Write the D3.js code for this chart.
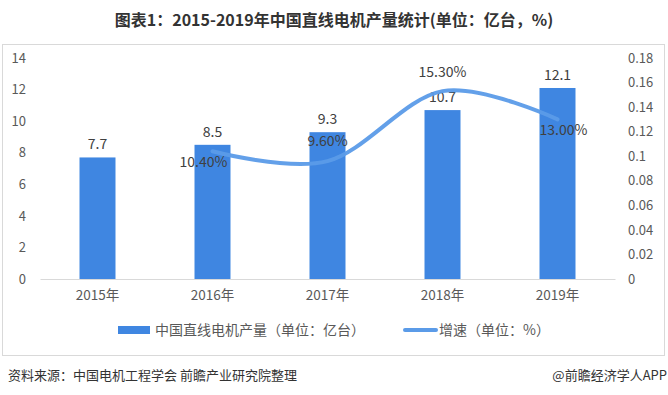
<!DOCTYPE html>
<html><head><meta charset="utf-8">
<script src="https://cdn.jsdelivr.net/npm/d3@7/dist/d3.min.js"></script>
<style>body{margin:0;background:#fff;}svg{display:block;}</style>
</head><body>
<svg id="c" width="668" height="395"></svg>
<script>
const years = ["2015年","2016年","2017年","2018年","2019年"];
const output = [7.7, 8.5, 9.3, 10.7, 12.1];
const growthYears = ["2016年","2017年","2018年","2019年"];
const growth = [0.104, 0.096, 0.153, 0.13];
const growthLabels = ["10.40%","9.60%","15.30%","13.00%"];
const leftTicks = [0,2,4,6,8,10,12,14];
const rightTicks = [0,0.02,0.04,0.06,0.08,0.1,0.12,0.14,0.16,0.18];

const svg = d3.select("#c");
const font = "'Noto Sans CJK SC','Microsoft YaHei',sans-serif";
const x = d3.scaleBand().domain(years).range([40,615]).paddingInner(0.687).paddingOuter(0.3435);
const yL = d3.scaleLinear().domain([0,14]).range([279,58]);
const yR = d3.scaleLinear().domain([0,0.18]).range([279,58]);
const cx = d => x(d)+x.bandwidth()/2;

// frame
svg.append("rect").attr("x",2.5).attr("y",44.5).attr("width",662).attr("height",311)
  .attr("fill","none").attr("stroke","#d9d9d9");

// title
svg.append("text").attr("x",334).attr("y",26).attr("text-anchor","middle")
  .attr("font-family",font).attr("font-weight","bold").attr("font-size",16).attr("fill","#333")
  .text("图表1：2015-2019年中国直线电机产量统计(单位：亿台，%)");

// left axis
const gl = svg.append("g").attr("transform","translate(26,0)")
  .call(d3.axisLeft(yL).tickValues(leftTicks).tickSize(0).tickPadding(0));
gl.select(".domain").remove();
gl.selectAll("text").attr("font-family",font).attr("font-size",13).attr("fill","#595959");

// right axis
const gr = svg.append("g").attr("transform","translate(628,0)")
  .call(d3.axisRight(yR).tickValues(rightTicks).tickSize(0).tickPadding(0).tickFormat(d=>String(d)));
gr.select(".domain").remove();
gr.selectAll("text").attr("font-family",font).attr("font-size",13).attr("fill","#595959");

// x axis
const gx = svg.append("g").attr("transform","translate(0,279)")
  .call(d3.axisBottom(x).tickSize(0).tickPadding(11));
gx.select(".domain").attr("stroke","#d9d9d9");
gx.selectAll("text").attr("font-family",font).attr("font-size",13.5).attr("fill","#595959");

// bars
svg.selectAll("rect.bar").data(output).join("rect").attr("class","bar")
  .attr("x",(d,i)=>x(years[i])).attr("width",x.bandwidth())
  .attr("y",d=>yL(d)).attr("height",d=>yL(0)-yL(d)).attr("fill","#3f86e1");

svg.selectAll("text.bl").data(output).join("text").attr("class","bl")
  .attr("x",(d,i)=>cx(years[i])).attr("y",d=>yL(d)-8).attr("text-anchor","middle")
  .attr("font-family",font).attr("font-size",14).attr("fill","#404040").text(d=>d);

// line
const line = d3.line().x((d,i)=>cx(growthYears[i])).y(d=>yR(d)).curve(d3.curveCardinal.tension(0));
svg.append("path").datum(growth).attr("d",line).attr("fill","none")
  .attr("stroke","#5b9be8").attr("stroke-width",4).attr("stroke-linecap","round").attr("opacity",0.95);

const offs = [[-9,16],[0,-15],[0,-14],[6,16]];
svg.selectAll("text.gl").data(growth).join("text").attr("class","gl")
  .attr("x",(d,i)=>cx(growthYears[i])+offs[i][0]).attr("y",(d,i)=>yR(d)+offs[i][1]).attr("text-anchor","middle")
  .attr("font-family",font).attr("font-size",14).attr("fill","#404040").text((d,i)=>growthLabels[i]);

// legend
svg.append("rect").attr("x",118).attr("y",326).attr("width",32).attr("height",8).attr("fill","#3f86e1");
svg.append("text").attr("x",155).attr("y",335).attr("font-family",font).attr("font-size",14).attr("fill","#595959")
  .text("中国直线电机产量（单位：亿台）");
svg.append("line").attr("x1",405).attr("x2",436).attr("y1",330).attr("y2",330)
  .attr("stroke","#5b9be8").attr("stroke-width",4).attr("stroke-linecap","round");
svg.append("text").attr("x",439).attr("y",335).attr("font-family",font).attr("font-size",14).attr("fill","#595959")
  .text("增速（单位：%）");

// source
svg.append("text").attr("x",8).attr("y",380).attr("font-family",font).attr("font-size",13).attr("fill","#333")
  .text("资料来源：中国电机工程学会 前瞻产业研究院整理");
svg.append("text").attr("x",667).attr("y",380).attr("text-anchor","end").attr("font-family",font).attr("font-size",13).attr("fill","#333")
  .text("@前瞻经济学人APP");
</script>
</body></html>
